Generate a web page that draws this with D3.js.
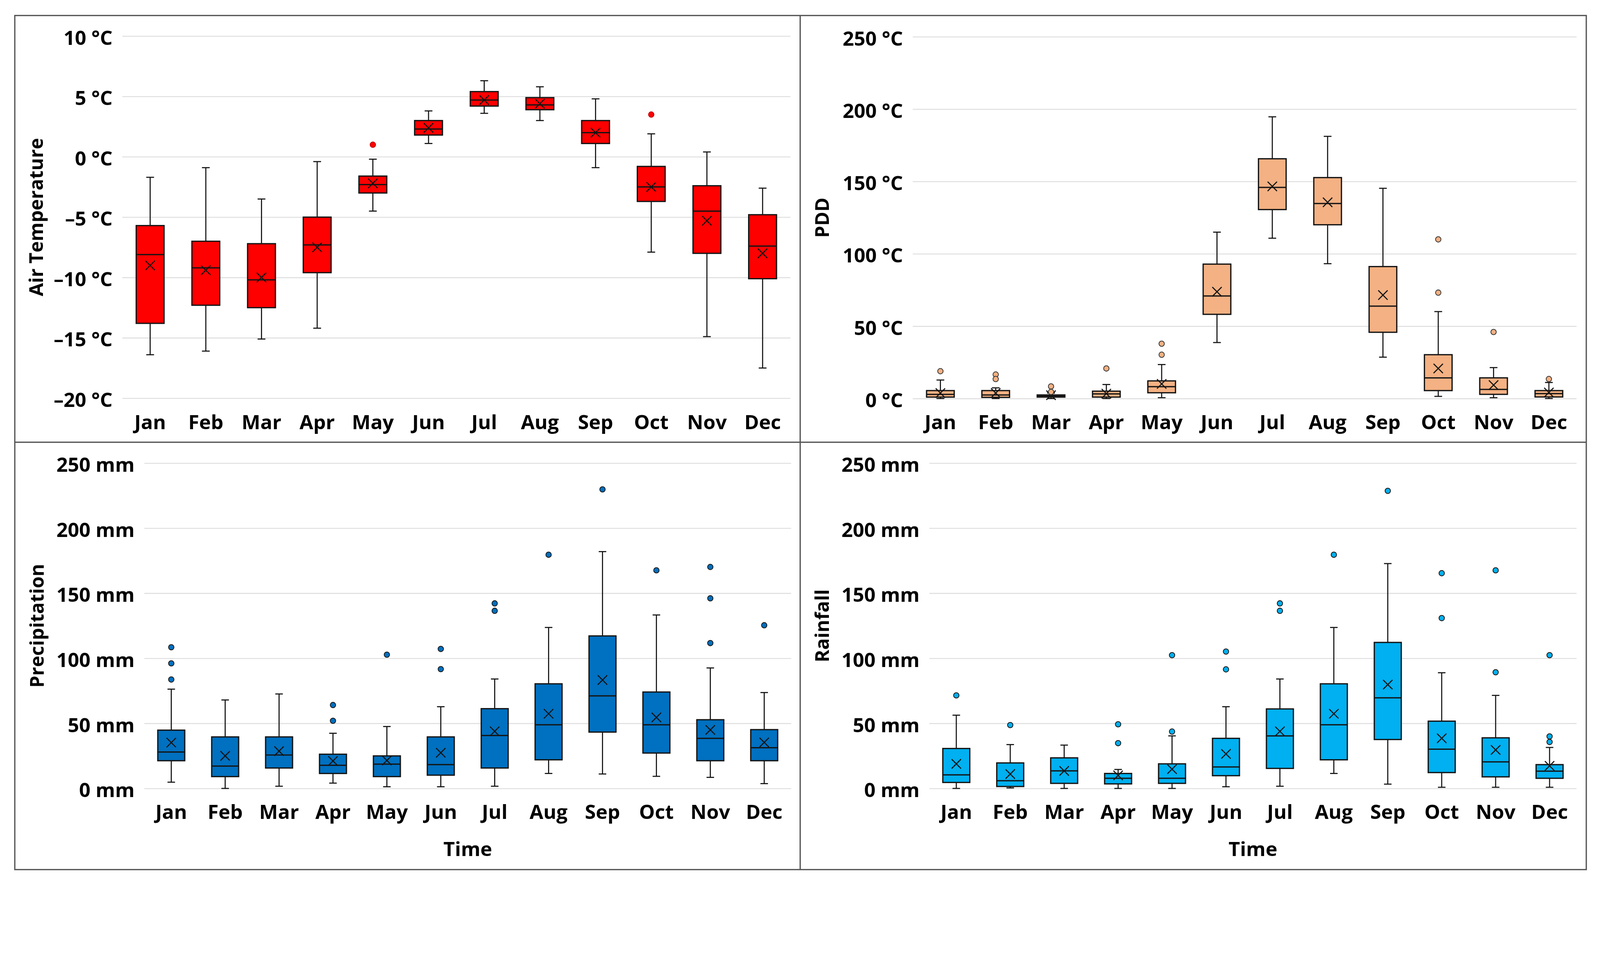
<!DOCTYPE html>
<html>
<head>
<meta charset="utf-8">
<script src="https://cdn.jsdelivr.net/npm/d3@7"></script>
<style>
  html, body { margin: 0; padding: 0; background: #fff; overflow: hidden; }
  #chart { display: block; width: 100vw; height: auto; }
  svg text { font-family: "Open Sans", "Noto Sans", sans-serif; font-weight: 700; fill: #000; }
</style>
</head>
<body>
<svg id="chart" viewBox="0 0 4435 2471" preserveAspectRatio="xMidYMin meet"></svg>
<script>
// 月ラベル
const months = ['Jan', 'Feb', 'Mar', 'Apr', 'May', 'Jun', 'Jul', 'Aug', 'Sep', 'Oct', 'Nov', 'Dec'];

// Air Temperature (°C)
const airMin  = [-16.4, -16.1, -15.1, -14.2, -4.5, 1.1, 3.6, 3.0, -0.9, -7.9, -14.9, -17.5];
const airQ1   = [-13.8, -12.3, -12.5, -9.6, -3.0, 1.8, 4.2, 3.9, 1.1, -3.7, -8.0, -10.1];
const airMed  = [-8.1, -9.2, -10.2, -7.3, -2.3, 2.3, 4.7, 4.3, 2.0, -2.5, -4.5, -7.4];
const airQ3   = [-5.7, -7.0, -7.2, -5.0, -1.6, 3.0, 5.4, 4.9, 3.0, -0.8, -2.4, -4.8];
const airMax  = [-1.7, -0.9, -3.5, -0.4, -0.2, 3.8, 6.3, 5.8, 4.8, 1.9, 0.4, -2.6];
const airMean = [-9.0, -9.4, -10.0, -7.5, -2.2, 2.4, 4.7, 4.4, 2.0, -2.5, -5.3, -8.0];
const airOut  = [[], [], [], [], [1.0], [], [], [], [], [3.5], [], []];

// PDD (°C)
const pddMin  = [0, 0, 0, 0, 0.6, 38.7, 110.8, 93.2, 28.6, 1.5, 0.6, 0];
const pddQ1   = [1.0, 0.8, 1.0, 1.0, 4.0, 58.2, 130.6, 120.1, 45.8, 5.5, 2.9, 1.1];
const pddMed  = [2.9, 2.5, 1.7, 3.2, 8.2, 70.9, 145.9, 134.8, 63.9, 14.3, 6.3, 3.4];
const pddQ3   = [5.5, 5.5, 2.5, 5.1, 12.2, 92.9, 165.7, 152.7, 91.2, 30.3, 14.3, 5.5];
const pddMax  = [12.8, 7.4, 3.8, 9.7, 23.5, 115.0, 194.7, 181.2, 145.3, 60.1, 21.4, 11.1];
const pddMean = [3.8, 3.8, 2.3, 3.4, 10.1, 73.8, 146.6, 135.6, 71.5, 20.8, 9.3, 4.2];
const pddOut  = [[18.9], [16.6, 13.5], [8.4, 4.6], [20.8], [37.9, 30.3], [], [], [], [], [110, 73.2], [46], [13.5]];

// Precipitation (mm)
const precMin  = [4.8, 0, 1.7, 4.1, 1.3, 1.3, 1.7, 11.5, 11.1, 9.3, 8.5, 3.7];
const precQ1   = [21.3, 9.1, 15.7, 11.5, 9.1, 10.2, 15.7, 22.0, 43.3, 27.2, 21.3, 21.3];
const precMed  = [28.0, 17.2, 25.7, 17.8, 18.7, 18.3, 40.7, 48.9, 71.1, 48.9, 38.5, 31.3];
const precQ3   = [44.8, 39.6, 39.6, 26.3, 25.0, 39.6, 61.3, 80.4, 117.2, 74.1, 52.8, 45.2];
const precMax  = [76.3, 68.0, 72.6, 42.4, 47.6, 62.8, 84.1, 123.7, 182.0, 133.3, 92.6, 73.7];
const precMean = [35.2, 25.0, 28.7, 21.1, 21.5, 27.4, 43.9, 57.4, 83.3, 54.6, 45.0, 35.4];
const precOut  = [[108.5, 96.1, 83.7], [], [], [64.1, 52.0], [102.8], [107.2, 91.7], [142.2, 136.5], [179.6], [229.8], [167.6], [170.2, 146.1, 111.7], [125.4]];

// Rainfall (mm)
const rainMin  = [0, 0.4, 0, 0, 0, 1.3, 1.7, 11.5, 3.3, 0.9, 0.9, 0.9];
const rainQ1   = [4.6, 1.5, 3.9, 3.5, 3.9, 9.8, 15.4, 22.0, 37.6, 12.2, 8.9, 7.8];
const rainMed  = [10.4, 5.9, 13.5, 7.8, 7.8, 16.5, 40.4, 48.9, 69.6, 30.2, 20.4, 13.3];
const rainQ3   = [30.7, 19.6, 23.5, 11.5, 18.9, 38.5, 61.1, 80.4, 112.2, 51.7, 38.9, 18.3];
const rainMax  = [56.3, 33.7, 33.3, 14.6, 40.4, 62.8, 84.1, 123.7, 172.8, 88.9, 71.5, 31.5];
const rainMean = [18.9, 11.1, 13.5, 10.0, 14.8, 26.5, 43.9, 57.4, 79.8, 38.5, 29.6, 17.4];
const rainOut  = [[71.5], [48.7], [], [49.3, 34.8], [102.4, 43.7], [105.2, 91.5], [142.2, 136.5], [179.6], [228.7], [165.4, 130.9], [167.6, 89.3], [102.4, 40.0, 35.7]];

// Y軸の目盛り
const tempTicks = [-20, -15, -10, -5, 0, 5, 10];
const pddTicks  = [0, 50, 100, 150, 200, 250];
const mmTicks   = [0, 50, 100, 150, 200, 250];

const fmtTemp = v => (v < 0 ? '\u2013' + Math.abs(v) : v) + ' \u00B0C';
const fmtMm = v => v + ' mm';

function makeStats(mn, q1, md, q3, mx, mean, out) {
    return months.map((m, i) => ({
        month: m, min: mn[i], q1: q1[i], med: md[i], q3: q3[i], max: mx[i], mean: mean[i], out: out[i]
    }));
}

const panels = [
    {
        title: 'Air Temperature', data: makeStats(airMin, airQ1, airMed, airQ3, airMax, airMean, airOut),
        ticks: tempTicks, domain: [-20, 10], fmt: fmtTemp, fill: '#FF0000', outFill: '#FF0000', outStroke: '#C00000',
        x0: 339, x1: 2191, y0: 100, y1: 1104, titleX: 100, labelY: 1190, time: false
    },
    {
        title: 'PDD', data: makeStats(pddMin, pddQ1, pddMed, pddQ3, pddMax, pddMean, pddOut),
        ticks: pddTicks, domain: [0, 250], fmt: fmtTemp, fill: '#F4B183', outFill: '#F4B183', outStroke: '#3a3a3a',
        x0: 2530, x1: 4370, y0: 102, y1: 1105, titleX: 2278, labelY: 1190, time: false
    },
    {
        title: 'Precipitation', data: makeStats(precMin, precQ1, precMed, precQ3, precMax, precMean, precOut),
        ticks: mmTicks, domain: [0, 250], fmt: fmtMm, fill: '#0070C0', outFill: '#0070C0', outStroke: '#1a1a1a',
        x0: 400, x1: 2193, y0: 1284, y1: 2186, titleX: 102, labelY: 2271, time: true
    },
    {
        title: 'Rainfall', data: makeStats(rainMin, rainQ1, rainMed, rainQ3, rainMax, rainMean, rainOut),
        ticks: mmTicks, domain: [0, 250], fmt: fmtMm, fill: '#00B0F0', outFill: '#00B0F0', outStroke: '#1a1a1a',
        x0: 2576, x1: 4370, y0: 1284, y1: 2186, titleX: 2279, labelY: 2271, time: true
    }
];

const svg = d3.select('#chart');
svg.append('rect').attr('width', 4435).attr('height', 2471).attr('fill', '#fff');

// 外枠と区切り線
const frame = svg.append('g').attr('stroke', '#555').attr('stroke-width', 3.5).attr('fill', 'none');
frame.append('rect').attr('x', 41).attr('y', 43).attr('width', 4356).attr('height', 2368);
frame.append('line').attr('x1', 2218).attr('x2', 2218).attr('y1', 43).attr('y2', 2411);
frame.append('line').attr('x1', 41).attr('x2', 4397).attr('y1', 1226).attr('y2', 1226);

const fontSize = 55;
const ink = '#141414';

panels.forEach(p => {
    const x = d3.scaleBand().domain(months).range([p.x0, p.x1]).paddingInner(0).paddingOuter(0);
    const y = d3.scaleLinear().domain(p.domain).range([p.y1, p.y0]);
    const g = svg.append('g');

    // グリッド線と目盛りラベル
    const yAxis = g.append('g')
        .attr('transform', `translate(${p.x0},0)`)
        .call(d3.axisLeft(y).tickValues(p.ticks).tickFormat(p.fmt).tickSize(-(p.x1 - p.x0)).tickPadding(27));
    yAxis.select('.domain').remove();
    yAxis.selectAll('.tick line').attr('stroke', '#DDDDDD').attr('stroke-width', 2.5);
    yAxis.selectAll('.tick text').attr('font-size', fontSize).attr('dy', '0.43em');

    const xAxis = g.append('g')
        .attr('transform', `translate(0,${p.labelY})`)
        .call(d3.axisBottom(x).tickSize(0).tickPadding(0));
    xAxis.select('.domain').remove();
    xAxis.selectAll('.tick text').attr('font-size', fontSize).attr('dy', 0);

    g.append('text')
        .attr('transform', `translate(${p.titleX},${(p.y0 + p.y1) / 2}) rotate(-90)`)
        .attr('text-anchor', 'middle')
        .attr('dy', '0.36em')
        .attr('font-size', 53)
        .text(p.title);

    if (p.time) {
        g.append('text')
            .attr('x', (p.x0 + p.x1) / 2)
            .attr('y', 2373)
            .attr('text-anchor', 'middle')
            .attr('font-size', fontSize)
            .text('Time');
    }

    const bw = x.bandwidth() * 0.5;
    const cap = bw * 0.28;
    const box = g.append('g')
        .selectAll('g')
        .data(p.data)
        .enter().append('g')
        .attr('transform', d => `translate(${x(d.month) + x.bandwidth() / 2},0)`);

    // ひげ
    box.append('line')
        .attr('y1', d => y(d.max)).attr('y2', d => y(d.q3))
        .attr('stroke', ink).attr('stroke-width', 3);
    box.append('line')
        .attr('y1', d => y(d.q1)).attr('y2', d => y(d.min))
        .attr('stroke', ink).attr('stroke-width', 3);
    box.append('line')
        .attr('x1', -cap / 2).attr('x2', cap / 2)
        .attr('y1', d => y(d.max)).attr('y2', d => y(d.max))
        .attr('stroke', ink).attr('stroke-width', 3);
    box.append('line')
        .attr('x1', -cap / 2).attr('x2', cap / 2)
        .attr('y1', d => y(d.min)).attr('y2', d => y(d.min))
        .attr('stroke', ink).attr('stroke-width', 3);

    // 箱
    box.append('rect')
        .attr('x', -bw / 2).attr('width', bw)
        .attr('y', d => y(d.q3)).attr('height', d => Math.max(1, y(d.q1) - y(d.q3)))
        .attr('fill', p.fill).attr('stroke', ink).attr('stroke-width', 3.5);

    // 中央値
    box.append('line')
        .attr('x1', -bw / 2).attr('x2', bw / 2)
        .attr('y1', d => y(d.med)).attr('y2', d => y(d.med))
        .attr('stroke', ink).attr('stroke-width', 3.5);

    // 平均値 (×)
    const m = 13;
    box.append('path')
        .attr('d', d => {
            const cy = y(d.mean);
            return `M${-m},${cy - m}L${m},${cy + m}M${-m},${cy + m}L${m},${cy - m}`;
        })
        .attr('stroke', ink).attr('stroke-width', 3).attr('fill', 'none');

    // 外れ値
    box.selectAll('circle')
        .data(d => d.out)
        .enter().append('circle')
        .attr('cx', 0)
        .attr('cy', v => y(v))
        .attr('r', 7.5)
        .attr('fill', p.outFill)
        .attr('stroke', p.outStroke)
        .attr('stroke-width', 2.2);
});
</script>
</body>
</html>
